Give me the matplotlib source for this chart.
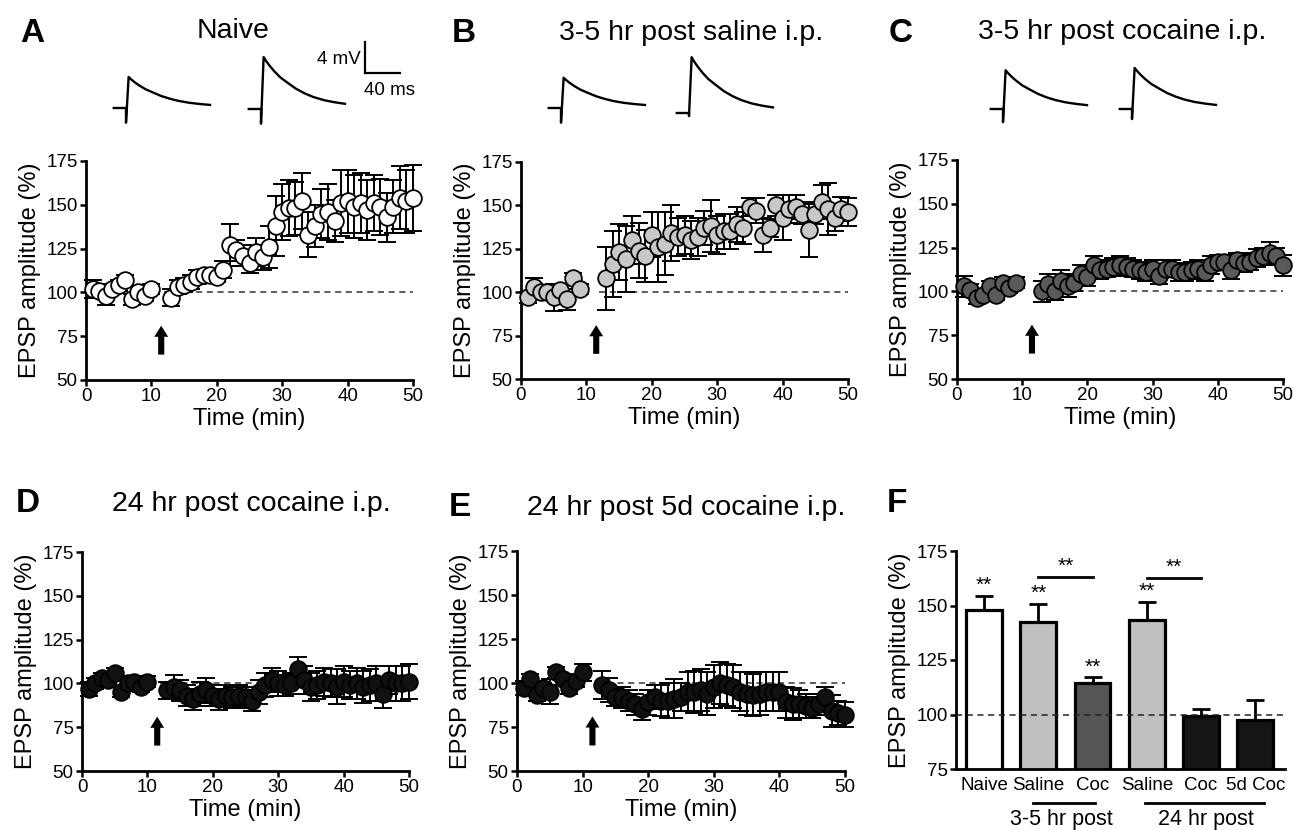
import numpy as np
import matplotlib.pyplot as plt

plt.rcParams['font.family'] = ['Liberation Sans', 'DejaVu Sans']

# ---- time course data (EPSP amplitude, % of baseline) ----
t_base10 = np.r_[1:11]
t_base9 = np.r_[1:10]
t_post = np.r_[13:51]

ampA = [102, 101, 98, 102, 104, 107, 96, 100, 98, 102,
        97, 103, 104, 106, 109, 110, 110, 109, 113, 127, 124, 121, 117, 123, 120, 126,
        138, 146, 148, 148, 152, 133, 138, 145, 146, 141,
        151, 152, 149, 151, 147, 151, 149, 143, 149, 154, 152, 154]
semA = [5, 3, 5, 3, 3, 3, 3, 3, 3, 3,
        5, 4, 4, 4, 4, 3, 3, 3, 5, 12, 6, 6, 6, 8, 7, 12,
        17, 16, 16, 15, 16, 13, 12, 14, 16, 12,
        19, 18, 18, 17, 17, 16, 16, 14, 15, 18, 18, 19]

ampB = [97, 103, 100, 100, 97, 101, 96, 108, 102,
        108, 116, 123, 119, 130, 124, 121, 133, 126, 128,
        134, 132, 133, 130, 132, 137, 138, 133, 135, 135,
        139, 137, 149, 147, 133, 137, 150, 143, 148, 149,
        145, 136, 145, 152, 148, 143, 148, 146]
semB = [3, 5, 3, 3, 8, 4, 6, 3, 3,
        18, 19, 16, 19, 14, 16, 15, 13, 20, 18,
        16, 11, 11, 11, 11, 10, 15, 11, 10, 10,
        10, 9, 5, 7, 10, 5, 6, 13, 8, 7,
        6, 16, 6, 10, 15, 8, 7, 8]

ampC = [103, 101, 96, 98, 103, 98, 105, 102, 105,
        100, 104, 100, 106, 103, 105, 110, 108, 115, 112,
        113, 114, 115, 114, 113, 112, 111, 113, 109, 113,
        113, 111, 111, 112, 113, 111, 115, 117, 117, 112,
        118, 116, 117, 119, 120, 122, 120, 115]
semC = [6, 3, 3, 3, 3, 3, 3, 3, 3,
        6, 6, 5, 6, 6, 5, 5, 5, 5, 5,
        5, 5, 5, 5, 5, 5, 5, 5, 5, 5,
        5, 5, 5, 5, 5, 5, 5, 4, 4, 5,
        4, 5, 5, 5, 5, 6, 5, 6]

ampD = [97, 100, 103, 102, 106, 95, 100, 101, 98, 101,
        96, 98, 96, 93, 91, 94, 96, 93, 91, 93,
        92, 93, 92, 90, 95, 99, 102, 100, 99, 100,
        108, 102, 98, 99, 101, 100, 98, 101, 99, 100,
        98, 99, 100, 94, 102, 100, 100, 101]
semD = [4, 3, 3, 3, 3, 3, 3, 3, 3, 3,
        5, 7, 6, 6, 6, 7, 7, 6, 6, 6,
        6, 6, 6, 6, 7, 7, 7, 7, 6, 6,
        7, 8, 8, 8, 8, 8, 10, 9, 8, 9,
        9, 9, 10, 8, 8, 10, 10, 10]

ampE = [97, 102, 93, 97, 95, 106, 102, 97, 101, 106,
        99, 96, 92, 92, 90, 88, 85, 89, 92, 90,
        90, 91, 92, 95, 95, 96, 94, 98, 100, 99,
        98, 95, 94, 93, 94, 95, 95, 95, 89, 88,
        88, 87, 86, 88, 92, 84, 83, 82]
semE = [4, 3, 3, 3, 7, 3, 3, 3, 3, 5,
        8, 7, 5, 6, 6, 6, 6, 7, 7, 9,
        10, 11, 8, 11, 12, 12, 12, 12, 12, 12,
        12, 11, 12, 12, 12, 11, 11, 11, 9, 9,
        8, 7, 6, 6, 6, 9, 7, 7]

# ---- summary bars (panel F) ----
f_labels = ['Naive', 'Saline', 'Coc', 'Saline', 'Coc', '5d Coc']
f_mean = [148, 142.5, 114.5, 143.5, 99.5, 97.5]
f_sem = [6.5, 8, 2.5, 8, 3, 9]
f_colors = ['white', '#c0c0c0', '#555555', '#c0c0c0', '#151515', '#151515']

# ---- example EPSP traces (normalised decay) ----
decay_t = [3, 6, 10, 15, 22, 30, 40, 50, 60, 72, 84, 96]          # ms
decay_f = [1.0, 0.92, 0.83, 0.73, 0.61, 0.51, 0.39, 0.30, 0.23, 0.17, 0.13, 0.10]
# (stim x px, baseline y px, peak mV, artefact depth mV)
traces = [(126, 108, 4.0, 1.9), (261, 109, 6.7, 1.9),
          (561, 108, 3.9, 1.9), (689, 113, 7.2, 0.4),
          (1003, 109, 5.0, 1.7), (1132, 109, 5.3, 1.3)]

W, H = 1293, 830
PX_MS = 35 / 40.0   # px per ms
PX_MV = 31 / 4.0    # px per mV

fig = plt.figure(figsize=(W / 100, H / 100), dpi=100)


def px_axes(x0, y0, x1, y1):
    return fig.add_axes([x0 / W, 1 - y1 / H, (x1 - x0) / W, (y1 - y0) / H])


def style(ax):
    for s in ['top', 'right']:
        ax.spines[s].set_visible(False)
    for s in ['left', 'bottom']:
        ax.spines[s].set_linewidth(2)
    ax.tick_params(direction='out', length=4, width=1.8, labelsize=13.5, pad=2)


def timecourse(ax, t, amp, sem, color):
    ax.plot([12, 50], [100, 100], ls=(0, (4, 3)), color='#333333', lw=1.1, zorder=1)
    eb = ax.errorbar(t, amp, yerr=sem, fmt='none', ecolor='k', elinewidth=1.4,
                     capsize=6.5, capthick=1.4, zorder=2)
    for a in eb.get_children():
        a.set_clip_on(False)
    ax.plot(t, amp, 'o', ms=12, mfc=color, mec='k', mew=1.3, zorder=3, clip_on=False)
    ax.annotate('', xy=(11.5, 81), xytext=(11.5, 64.5),
                arrowprops=dict(arrowstyle='simple,head_width=0.5,head_length=0.4,tail_width=0.22',
                                mutation_scale=20, fc='k', ec='none', shrinkA=0, shrinkB=0))
    ax.set_xlim(0, 50)
    ax.set_ylim(50, 175)
    ax.set_xticks(range(0, 51, 10))
    ax.set_yticks(range(50, 176, 25))
    ax.set_xlabel('Time (min)', fontsize=17, labelpad=2)
    ax.set_ylabel('EPSP amplitude (%)', fontsize=17, labelpad=4)
    style(ax)


t10 = np.r_[t_base10, t_post]
t9 = np.r_[t_base9, t_post]

timecourse(px_axes(86, 161, 413, 380), t10, ampA, semA, 'white')
timecourse(px_axes(521, 162, 848, 379), t9, ampB, semB, '#c8c8c8')
timecourse(px_axes(957, 160, 1283, 379), t9, ampC, semC, '#5a5a5a')
timecourse(px_axes(82, 552, 409, 771), t10, ampD, semD, '#111111')
timecourse(px_axes(517, 551, 845, 771), t10, ampE, semE, '#111111')

# ---- panel F ----
axF = px_axes(956, 551, 1285, 769)
xF = np.arange(len(f_labels))
axF.bar(xF, f_mean, width=0.66, color=f_colors, edgecolor='k', linewidth=2.3, zorder=2)
axF.errorbar(xF, f_mean, yerr=[np.zeros(len(f_sem)), f_sem], fmt='none', ecolor='k',
             elinewidth=2, capsize=6.5, capthick=2, zorder=1.5)
axF.axhline(100, ls=(0, (4, 3)), color='#222222', lw=1.1, zorder=3)
axF.set_xlim(-0.52, 5.55)
axF.set_ylim(75, 175)
axF.set_yticks(range(75, 176, 25))
axF.set_ylabel('EPSP amplitude (%)', fontsize=17, labelpad=4)
style(axF)
axF.set_xticks(xF, f_labels)
axF.tick_params(axis='x', length=0, labelsize=13.5, pad=6)
for i in range(4):
    axF.text(xF[i], f_mean[i] + f_sem[i] + 0.5, '**', ha='center', va='bottom', fontsize=15)
axF.plot([1, 2], [163, 163], color='k', lw=2)
axF.text(1.5, 163.5, '**', ha='center', va='bottom', fontsize=15)
axF.plot([3, 4], [162.5, 162.5], color='k', lw=2)
axF.text(3.5, 163, '**', ha='center', va='bottom', fontsize=15)
trans = axF.get_xaxis_transform()
axF.plot([0.9, 2.05], [-0.156, -0.156], transform=trans, clip_on=False, color='k', lw=2)
axF.text(1.43, -0.23, '3-5 hr post', transform=trans, ha='center', va='center', fontsize=15.5)
axF.plot([2.96, 5.17], [-0.156, -0.156], transform=trans, clip_on=False, color='k', lw=2)
axF.text(4.09, -0.23, '24 hr post', transform=trans, ha='center', va='center', fontsize=15.5)

# ---- example traces ----
for sx, by, pk, dep in traces:
    tax = px_axes(sx - 16 * PX_MS, by - 8 * PX_MV, sx + 100 * PX_MS, by + 2.5 * PX_MV)
    tt = [-14, 0, 0] + decay_t
    vv = [0, 0, -dep] + [pk * f for f in decay_f]
    tax.plot(tt, vv, color='k', lw=1.7)
    tax.set_xlim(-16, 100)
    tax.set_ylim(-2.5, 8)
    tax.axis('off')

# scale bar
sax = px_axes(365, 42, 400, 73)
sax.plot([0, 0], [0, 4], color='k', lw=1.6, clip_on=False)
sax.plot([0, 40], [0, 0], color='k', lw=1.6, clip_on=False)
sax.text(-5, 1.7, '4 mV', ha='right', va='center', fontsize=13.5)
sax.text(28, -2.2, '40 ms', ha='center', va='center', fontsize=13.5)
sax.set_xlim(0, 40)
sax.set_ylim(0, 4)
sax.axis('off')

# ---- titles and panel letters ----
titles = [('Naive', 233, 31), ('3-5 hr post saline i.p.', 691, 33),
          ('3-5 hr post cocaine i.p.', 1122, 32), ('24 hr post cocaine i.p.', 251, 504),
          ('24 hr post 5d cocaine i.p.', 686, 508)]
for s, x, y in titles:
    fig.text(x / W, 1 - y / H, s, ha='center', va='center', fontsize=20.5)
letters = [('A', 20, 34), ('B', 452, 34), ('C', 889, 33), ('D', 16, 504),
           ('E', 449, 507), ('F', 887, 504)]
for s, x, y in letters:
    fig.text(x / W, 1 - y / H, s, ha='left', va='center', fontsize=24, fontweight='bold')

fig.savefig('out.png', dpi=100)
